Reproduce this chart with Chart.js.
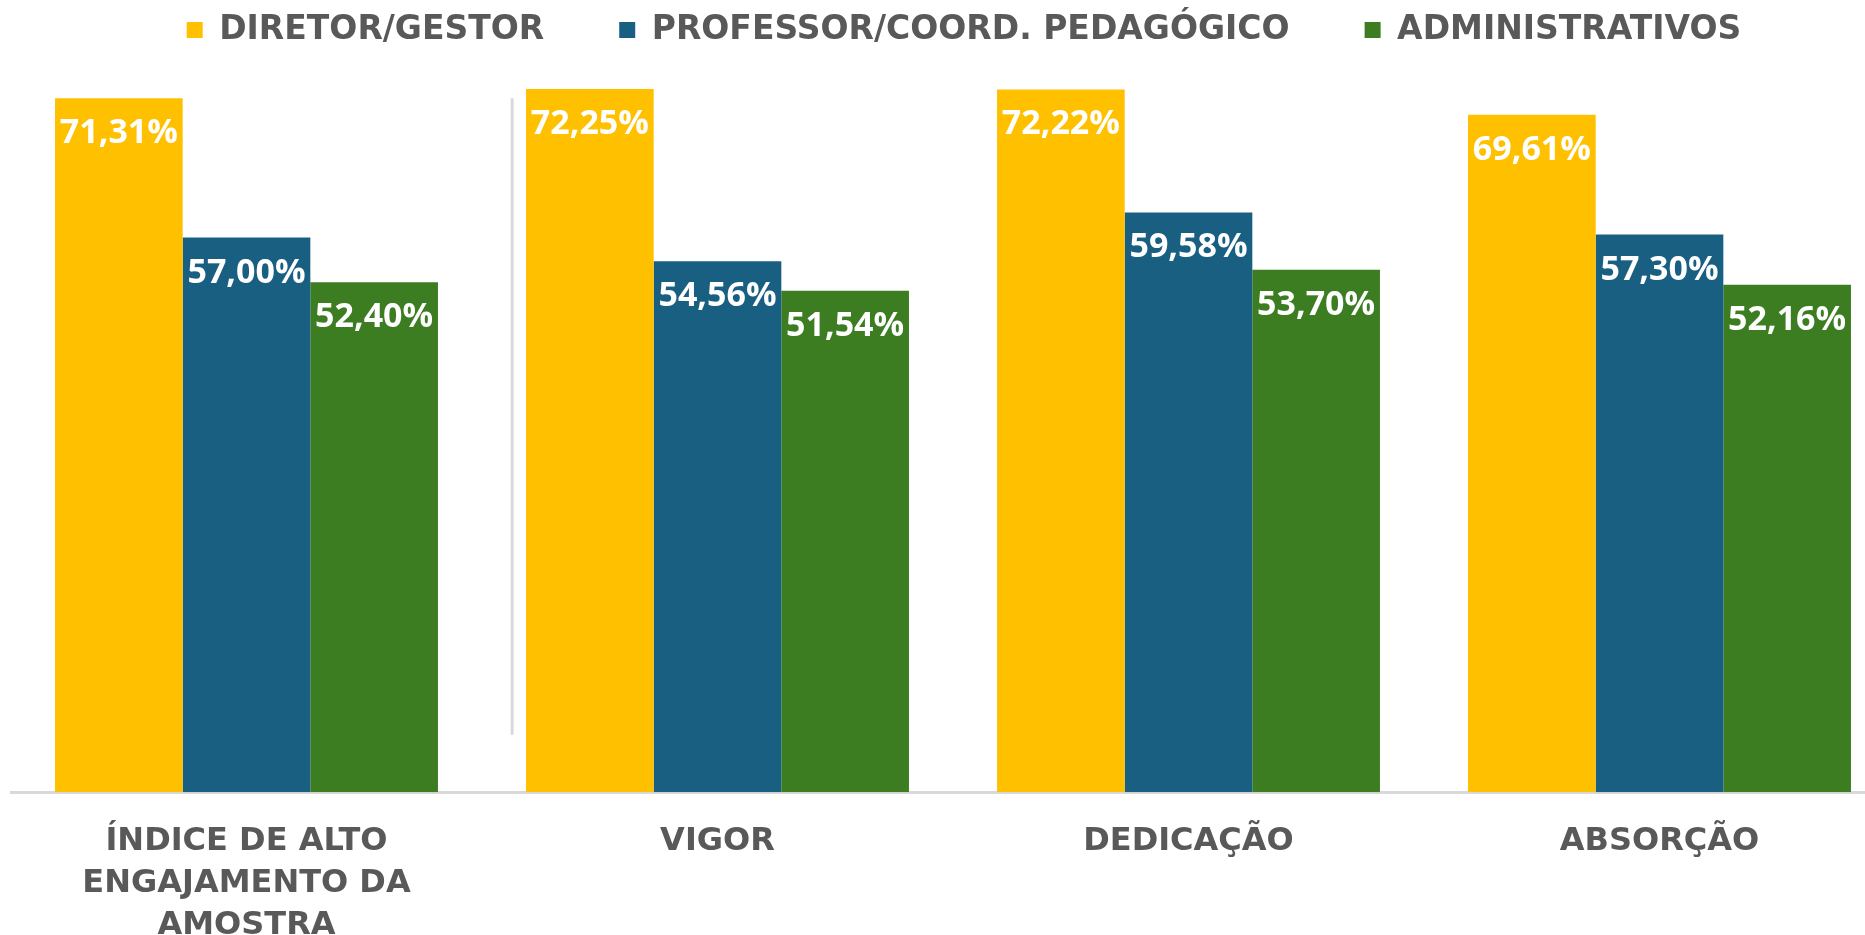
<!DOCTYPE html>
<html>
<head>
<meta charset="utf-8">
<script src="https://cdn.jsdelivr.net/npm/chart.js@4.4.1/dist/chart.umd.min.js"></script>
<style>
  body { margin: 0; overflow: hidden; background: #fff; }
  #wrap { width: 1900px; height: 975px; }
</style>
</head>
<body>
<div id="wrap"><canvas id="mainChart"></canvas></div>
<script>
const categories = [
  ['ÍNDICE DE ALTO', 'ENGAJAMENTO DA', 'AMOSTRA'],
  'VIGOR',
  'DEDICAÇÃO',
  'ABSORÇÃO'
];
const seriesNames = ['DIRETOR/GESTOR', 'PROFESSOR/COORD. PEDAGÓGICO', 'ADMINISTRATIVOS'];
const diretor = [71.31, 72.25, 72.22, 69.61];
const professor = [57.00, 54.56, 59.58, 57.30];
const administrativos = [52.40, 51.54, 53.70, 52.16];
const colors = ['#FFC000', '#185F82', '#3C7D22'];

// thin grey divider standing between the first two groups
const divider = { x: 0.564, top: 71.3, bottom: 5.9 };

function fmt(v) {
  return v.toFixed(2).replace('.', ',') + '%';
}

const data = {
  labels: categories,
  datasets: [
    { label: seriesNames[0], data: diretor, backgroundColor: colors[0] },
    { label: seriesNames[1], data: professor, backgroundColor: colors[1] },
    { label: seriesNames[2], data: administrativos, backgroundColor: colors[2] }
  ]
};

const valueLabels = {
  id: 'valueLabels',
  afterDatasetsDraw: function(chart) {
    var ctx = chart.ctx;
    ctx.save();
    ctx.font = 'bold 34px "Open Sans"';
    ctx.fillStyle = '#ffffff';
    ctx.textAlign = 'center';
    ctx.textBaseline = 'alphabetic';
    chart.data.datasets.forEach(function(ds, i) {
      chart.getDatasetMeta(i).data.forEach(function(bar, j) {
        ctx.fillText(fmt(ds.data[j]), bar.x, bar.y + 45);
      });
    });
    ctx.restore();
  }
};

const dividerLine = {
  id: 'dividerLine',
  beforeDatasetsDraw: function(chart) {
    var ctx = chart.ctx;
    var x = chart.scales.x.getPixelForValue(divider.x);
    ctx.save();
    ctx.strokeStyle = '#d9d9d9';
    ctx.lineWidth = 3;
    ctx.beginPath();
    ctx.moveTo(x, chart.scales.y.getPixelForValue(divider.top));
    ctx.lineTo(x, chart.scales.y.getPixelForValue(divider.bottom));
    ctx.stroke();
    ctx.restore();
  }
};

// nudge the legend a little to the right, like the original
const legendShift = {
  id: 'legendShift',
  afterLayout: function(chart) {
    chart.legend.left += 11;
    chart.legend.right += 11;
  }
};

const config = {
  type: 'bar',
  data: data,
  options: {
    responsive: true,
    maintainAspectRatio: false,
    animation: false,
    events: [],
    layout: { padding: { top: -61.5, left: 11, right: 5, bottom: 0 } },
    datasets: {
      bar: { categoryPercentage: 0.813, barPercentage: 1.0 }
    },
    plugins: {
      tooltip: { enabled: false },
      legend: {
        position: 'top',
        labels: {
          font: { family: '"DejaVu Sans"', weight: 'bold', size: 33 },
          color: '#595959',
          boxWidth: 16,
          boxHeight: 16,
          padding: 75
        }
      }
    },
    scales: {
      x: {
        grid: { display: false, drawTicks: false },
        border: { display: true, color: '#d9d9d9', width: 3 },
        ticks: {
          color: '#595959',
          font: { family: '"DejaVu Sans"', weight: 'bold', size: 32, lineHeight: 1.32 },
          padding: 28,
          maxRotation: 0,
          autoSkip: false
        }
      },
      y: {
        display: false,
        min: 0,
        max: 75.6
      }
    }
  },
  plugins: [valueLabels, dividerLine, legendShift]
};

const myChart = new Chart(document.getElementById('mainChart'), config);
</script>
</body>
</html>
